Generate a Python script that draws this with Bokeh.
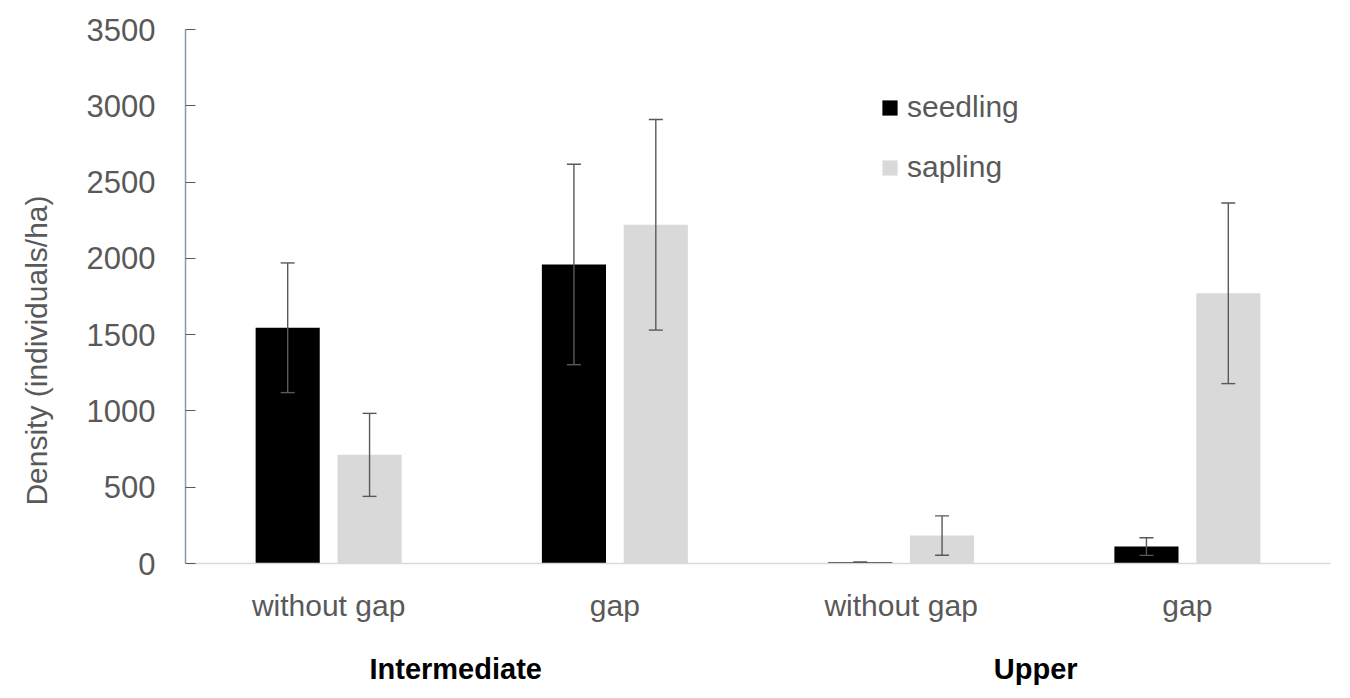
import math
from bokeh.plotting import figure
from bokeh.models import (ColumnDataSource, Whisker, TeeHead, Legend, LegendItem,
                          FixedTicker, Range1d, LinearAxis)
from bokeh.embed import file_html
from bokeh.resources import INLINE

# ---- data ----
zones = ["Intermediate", "Upper"]
conditions = ["without gap", "gap", "without gap", "gap"]
seedling = [1545, 1960, 8, 111]
seedling_err = [425, 657, 0, 58]
sapling = [712, 2220, 183, 1771]
sapling_err = [272, 690, 129, 592]
y_ticks = [0, 500, 1000, 1500, 2000, 2500, 3000, 3500]
y_title = "Density (individuals/ha)"

FONT = "Liberation Sans"
GREY_TXT = "#595959"

n = len(conditions)
centers = [i + 0.5 for i in range(n)]
offset = 0.143
bar_w = 0.224

src_seed = ColumnDataSource(dict(
    x=[c - offset for c in centers], top=seedling,
    upper=[v + e for v, e in zip(seedling, seedling_err)],
    lower=[v - e for v, e in zip(seedling, seedling_err)]))
src_sap = ColumnDataSource(dict(
    x=[c + offset for c in centers], top=sapling,
    upper=[v + e for v, e in zip(sapling, sapling_err)],
    lower=[v - e for v, e in zip(sapling, sapling_err)]))

p = figure(width=1345, height=690, x_range=Range1d(0, n), y_range=Range1d(0, 3500),
           output_backend="svg", toolbar_location=None,
           min_border_left=185, min_border_right=15, min_border_top=29, min_border_bottom=127)
p.outline_line_color = None
p.xgrid.visible = False
p.ygrid.visible = False

r_seed = p.vbar(x="x", top="top", width=bar_w, source=src_seed,
                fill_color="black", line_color=None)
r_sap = p.vbar(x="x", top="top", width=bar_w, source=src_sap,
               fill_color="#d9d9d9", line_color=None)

for src in (src_seed, src_sap):
    w = Whisker(base="x", upper="upper", lower="lower", source=src,
                line_color=GREY_TXT, line_width=1.4, level="overlay",
                upper_head=TeeHead(size=14, line_color=GREY_TXT, line_width=1.4),
                lower_head=TeeHead(size=14, line_color=GREY_TXT, line_width=1.4))
    p.add_layout(w)

# y axis
ya = p.yaxis[0]
ya.ticker = FixedTicker(ticks=y_ticks)
ya.axis_line_color = "#7e9cba"
ya.axis_line_width = 1.5
ya.major_tick_in = 10
ya.major_tick_out = 0
ya.major_tick_line_color = GREY_TXT
ya.major_tick_line_width = 1.2
ya.minor_tick_line_color = None
ya.major_label_text_font = FONT
ya.major_label_text_font_size = "31px"
ya.major_label_text_color = GREY_TXT
ya.major_label_standoff = 30

# y axis title, as a second left axis with a single labelled tick
title_pos = 2412
ya2 = LinearAxis(ticker=FixedTicker(ticks=[title_pos]),
                 major_label_overrides={title_pos: y_title},
                 major_label_orientation=math.pi / 2,
                 axis_line_color=None, major_tick_line_color=None,
                 minor_tick_line_color=None,
                 major_label_text_font=FONT, major_label_text_font_size="30px",
                 major_label_text_color=GREY_TXT, major_label_standoff=41)
p.add_layout(ya2, "left")

# x axis (conditions)
xa = p.xaxis[0]
xa.ticker = FixedTicker(ticks=centers)
xa.major_label_overrides = {c: lab for c, lab in zip(centers, conditions)}
xa.axis_line_color = "#d9d9d9"
xa.axis_line_width = 1.5
xa.major_tick_line_color = None
xa.minor_tick_line_color = None
xa.major_label_text_font = FONT
xa.major_label_text_font_size = "30px"
xa.major_label_text_color = GREY_TXT
xa.major_label_standoff = 19

# second x axis (zones)
group_x = [0.944, 2.97]
xa2 = LinearAxis(ticker=FixedTicker(ticks=group_x),
                 major_label_overrides={gx: z for gx, z in zip(group_x, zones)},
                 axis_line_color=None, major_tick_line_color=None,
                 minor_tick_line_color=None,
                 major_label_text_font=FONT, major_label_text_font_size="29px",
                 major_label_text_font_style="bold",
                 major_label_text_color="black", major_label_standoff=22)
p.add_layout(xa2, "below")

legend = Legend(items=[LegendItem(label="seedling", renderers=[r_seed]),
                       LegendItem(label="sapling", renderers=[r_sap])],
                location=(695, 379), border_line_color=None, background_fill_alpha=0,
                label_text_font=FONT, label_text_font_size="30px",
                label_text_color=GREY_TXT, glyph_width=19, glyph_height=19,
                label_height=19, spacing=26, label_standoff=8, padding=10, margin=0)
p.add_layout(legend)

open("out.html", "w").write(file_html(p, INLINE))
